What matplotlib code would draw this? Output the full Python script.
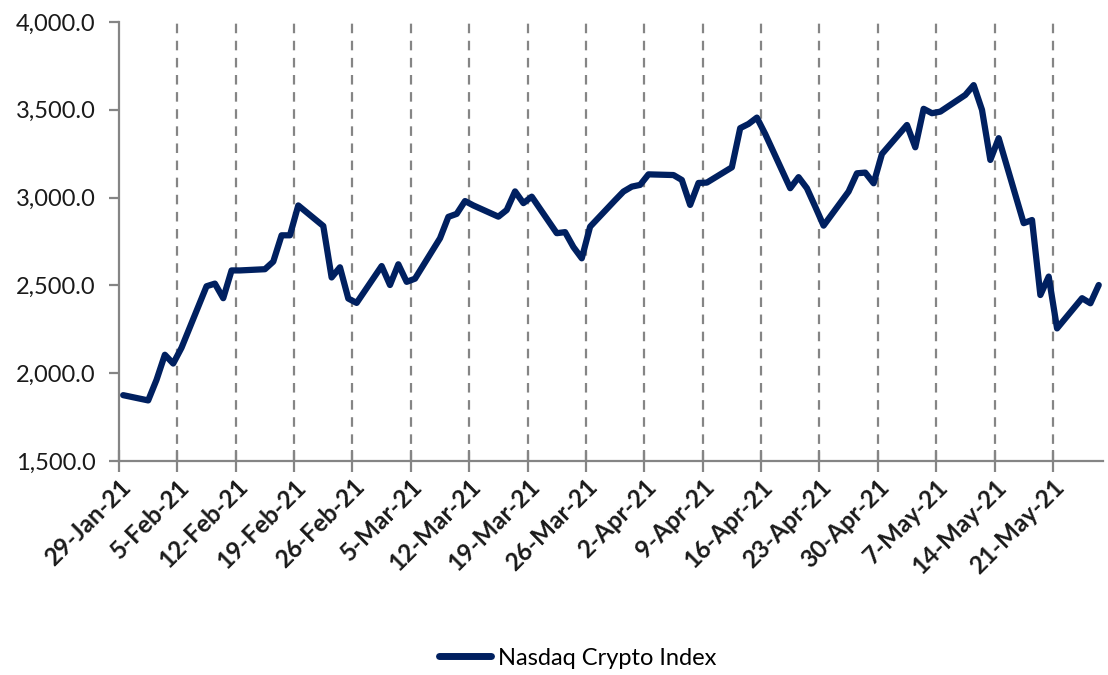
import matplotlib
matplotlib.use("Agg")
import matplotlib.pyplot as plt
import matplotlib.dates as mdates
import matplotlib.ticker as mticker
import pandas as pd

# daily closes (weekdays only)
dates = [
    "2021-01-29",
    "2021-02-01", "2021-02-02", "2021-02-03", "2021-02-04", "2021-02-05",
    "2021-02-08", "2021-02-09", "2021-02-10", "2021-02-11", "2021-02-12",
    "2021-02-15", "2021-02-16", "2021-02-17", "2021-02-18", "2021-02-19",
    "2021-02-22", "2021-02-23", "2021-02-24", "2021-02-25", "2021-02-26",
    "2021-03-01", "2021-03-02", "2021-03-03", "2021-03-04", "2021-03-05",
    "2021-03-08", "2021-03-09", "2021-03-10", "2021-03-11", "2021-03-12",
    "2021-03-15", "2021-03-16", "2021-03-17", "2021-03-18", "2021-03-19",
    "2021-03-22", "2021-03-23", "2021-03-24", "2021-03-25", "2021-03-26",
    "2021-03-29", "2021-03-30", "2021-03-31", "2021-04-01", "2021-04-02",
    "2021-04-05", "2021-04-06", "2021-04-07", "2021-04-08", "2021-04-09",
    "2021-04-12", "2021-04-13", "2021-04-14", "2021-04-15", "2021-04-16",
    "2021-04-19", "2021-04-20", "2021-04-21", "2021-04-22", "2021-04-23",
    "2021-04-26", "2021-04-27", "2021-04-28", "2021-04-29", "2021-04-30",
    "2021-05-03", "2021-05-04", "2021-05-05", "2021-05-06", "2021-05-07",
    "2021-05-10", "2021-05-11", "2021-05-12", "2021-05-13", "2021-05-14",
    "2021-05-17", "2021-05-18", "2021-05-19", "2021-05-20", "2021-05-21",
    "2021-05-24", "2021-05-25", "2021-05-26",
]
nci = [
    1875,
    1845, 1962, 2105, 2055, 2145,
    2495, 2510, 2427, 2585, 2585,
    2592, 2635, 2785, 2785, 2955,
    2838, 2545, 2603, 2425, 2400,
    2610, 2502, 2620, 2520, 2538,
    2768, 2890, 2907, 2980, 2955,
    2891, 2929, 3035, 2968, 3005,
    2797, 2803, 2718, 2654, 2834,
    2985, 3034, 3062, 3072, 3132,
    3128, 3100, 2958, 3083, 3085,
    3172, 3395, 3419, 3455, 3362,
    3053, 3116, 3053, 2948, 2840,
    3034, 3138, 3142, 3081, 3248,
    3413, 3286, 3505, 3480, 3489,
    3584, 3640, 3499, 3214, 3338,
    2854, 2872, 2445, 2550, 2255,
    2427, 2398, 2502,
]
series_name = "Nasdaq Crypto Index"

x_start = "2021-01-29"
x_end = "2021-05-27"
y_ticks = [1500, 2000, 2500, 3000, 3500, 4000]

NAVY = "#002060"
GREY = "#858585"
FONT = ["Lato", "DejaVu Sans"]

# Excel date axis puts each day's point in the middle of that day
x = pd.to_datetime(dates) + pd.Timedelta(hours=12)

fig = plt.figure(figsize=(11.08, 6.75), dpi=100)
ax = fig.add_axes([0.1074, 0.317, 0.888, 0.6506])

ax.plot(x, nci, color=NAVY, linewidth=4.5, solid_joinstyle="round",
        solid_capstyle="round", label=series_name, zorder=3)

ax.set_xlim(pd.Timestamp(x_start), pd.Timestamp(x_end))
ax.set_ylim(y_ticks[0], y_ticks[-1])

ticks = pd.date_range(x_start, x_end, freq="7D")
ax.set_xticks(ticks)
ax.xaxis.set_major_formatter(
    mticker.FuncFormatter(lambda v, _: (lambda d: f"{d.day}-{d:%b-%y}")(mdates.num2date(v)))
)
for t in ticks[1:]:
    ax.axvline(t, color=GREY, linestyle=(0, (4.3, 3.4)), linewidth=1.6, zorder=1)

ax.set_yticks(y_ticks)
ax.yaxis.set_major_formatter(mticker.FuncFormatter(lambda v, _: f"{v:,.1f}"))

for s in ["top", "right"]:
    ax.spines[s].set_visible(False)
for s in ["left", "bottom"]:
    ax.spines[s].set_color(GREY)
    ax.spines[s].set_linewidth(1.6)

ax.tick_params(axis="y", direction="out", length=7, width=1.6, color=GREY, pad=10)
ax.tick_params(axis="x", direction="inout", length=16, width=1.6, color=GREY, pad=2)

for lab in ax.get_yticklabels():
    lab.set_fontfamily(FONT)
    lab.set_fontsize(17)
    lab.set_color("#1a1a1a")
for lab in ax.get_xticklabels():
    lab.set_fontfamily(FONT)
    lab.set_fontsize(17.5)
    lab.set_fontweight("bold")
    lab.set_rotation(45)
    lab.set_ha("right")
    lab.set_rotation_mode("anchor")
    lab.set_color("#1a1a1a")

leg = fig.legend(loc="center", bbox_to_anchor=(0.521, 0.025), frameon=False,
                 handlelength=2.2, handletextpad=0.3,
                 prop={"family": FONT, "size": 17})
for line in leg.get_lines():
    line.set_linewidth(5)

fig.savefig("out.png", dpi=100)
